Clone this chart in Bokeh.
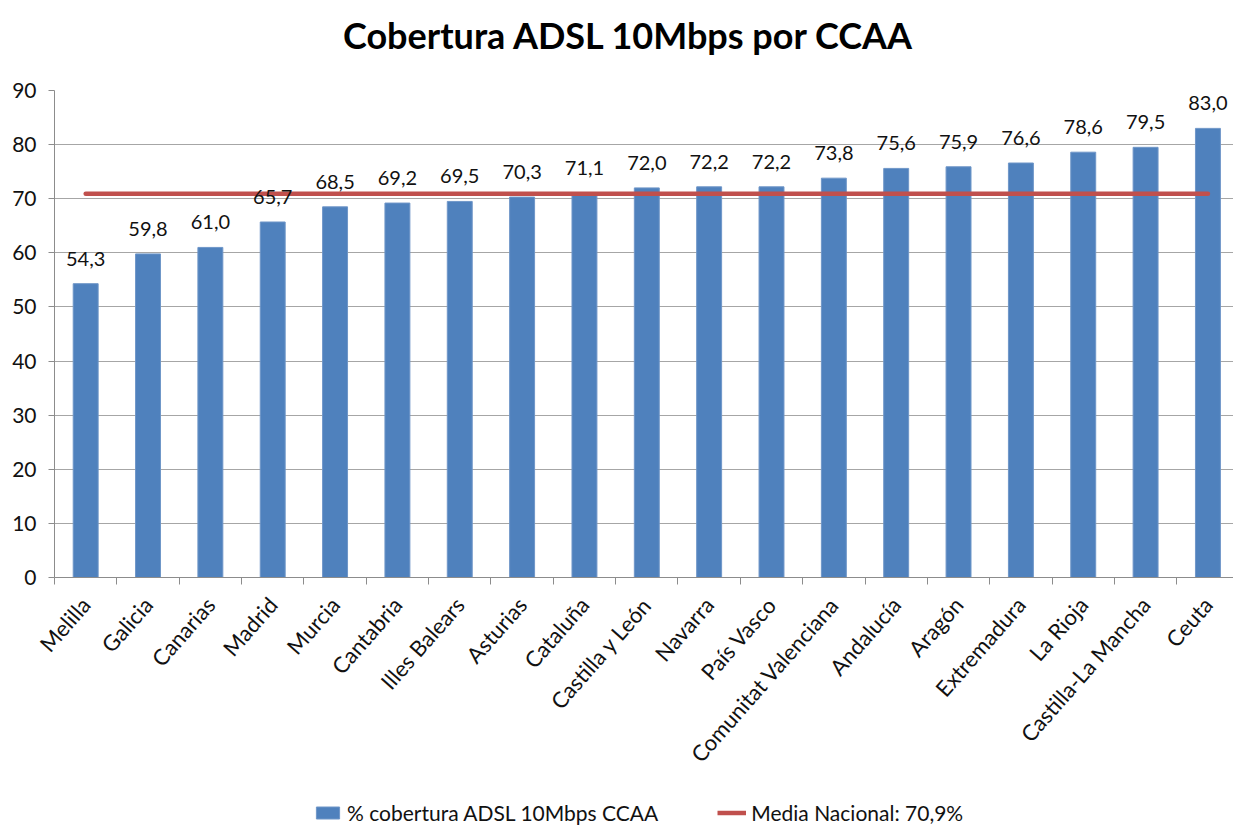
import math
from bokeh.plotting import figure
from bokeh.layouts import column
from bokeh.models import ColumnDataSource, FixedTicker, Legend, LegendItem, Range1d, Label
from bokeh.core.properties import value
from bokeh.embed import file_html
from bokeh.resources import INLINE

categories = ["Melilla", "Galicia", "Canarias", "Madrid", "Murcia", "Cantabria",
              "Illes Balears", "Asturias", "Cataluña", "Castilla y León", "Navarra",
              "País Vasco", "Comunitat Valenciana", "Andalucía", "Aragón",
              "Extremadura", "La Rioja", "Castilla-La Mancha", "Ceuta"]
coverage = [54.3, 59.8, 61.0, 65.7, 68.5, 69.2, 69.5, 70.3, 71.1, 72.0, 72.2,
            72.2, 73.8, 75.6, 75.9, 76.6, 78.6, 79.5, 83.0]
media_nacional = 70.9
y_ticks = [0, 10, 20, 30, 40, 50, 60, 70, 80, 90]
title_text = "Cobertura ADSL 10Mbps por CCAA"

FONT = "Lato"
BLUE = "#4F81BD"
RED = "#C0504D"
GRAY = "#8C8C8C"
TXT = "#111111"

n = len(categories)
xs = [i + 0.5 for i in range(n)]
labels = [f"{v:.1f}".replace(".", ",") for v in coverage]
src = ColumnDataSource(dict(x=xs, v=coverage, lab=labels, cat=categories))


def strip(height):
    f = figure(width=1233, height=height, x_range=Range1d(0, 1), y_range=Range1d(0, height),
               output_backend="svg", toolbar_location=None,
               min_border_left=0, min_border_right=0, min_border_top=0, min_border_bottom=0,
               x_axis_location=None, y_axis_location=None)
    f.outline_line_color = None
    f.grid.visible = False
    return f


# Title strip
tf = strip(60)
tf.add_layout(Label(x=0.5, y=26, text=title_text, text_align="center",
                    text_baseline="middle", x_offset=-15, text_font=FONT,
                    text_font_size="36px", text_font_style="bold", text_color="#000000"))

# Main chart
p = figure(width=1233, height=735, x_range=Range1d(0, n - 0.09), y_range=Range1d(0, 90),
           output_backend="svg", toolbar_location=None,
           min_border_left=54, min_border_right=0, min_border_top=30,
           min_border_bottom=218)
p.outline_line_color = None

bars = p.vbar(x="x", top="v", width=0.4, source=src, fill_color=BLUE,
              line_color="#6F96C8", line_width=1)
media_line = p.line(x=[xs[0], xs[-1]], y=[media_nacional, media_nacional],
                    line_color=RED, line_width=4.5, line_cap="round")
p.text(x="x", y="v", text="lab", source=src, text_align="center",
       text_baseline="bottom", y_offset=-18, text_font=value(FONT),
       text_font_size="20px", text_color=TXT)

p.xaxis.ticker = FixedTicker(ticks=xs, minor_ticks=list(range(n + 1)))
p.xaxis.major_label_overrides = {x: c for x, c in zip(xs, categories)}
p.xaxis.major_tick_line_color = None
p.xaxis.minor_tick_in = 0
p.xaxis.minor_tick_out = 7
p.xaxis.minor_tick_line_color = GRAY
p.xaxis.axis_line_color = GRAY
p.xaxis.major_label_orientation = 0.85
p.xaxis.major_label_text_font = FONT
p.xaxis.major_label_text_font_size = "22px"
p.xaxis.major_label_text_color = TXT
p.xaxis.major_label_standoff = 16

p.yaxis.ticker = FixedTicker(ticks=y_ticks)
p.yaxis.major_tick_in = 0
p.yaxis.major_tick_out = 6
p.yaxis.major_tick_line_color = GRAY
p.yaxis.minor_tick_line_color = None
p.yaxis.axis_line_color = GRAY
p.yaxis.major_label_text_font = FONT
p.yaxis.major_label_text_font_size = "21px"
p.yaxis.major_label_text_color = TXT
p.yaxis.major_label_standoff = 12

p.xgrid.visible = False
p.ygrid.ticker = FixedTicker(ticks=y_ticks)
p.ygrid.grid_line_color = "#A6A6A6"

# Legend strip below the chart (dummy renderers sit outside the visible range)
lf = strip(30)
dummy = ColumnDataSource(dict(x=[-5], v=[-5]))
leg_bar = lf.vbar(x="x", top="v", bottom="v", width=0.4, source=dummy, fill_color=BLUE,
                  line_color="#6F96C8", line_width=1)
leg_line = lf.line(x="x", y="v", source=dummy, line_color=RED, line_width=4.5)
legend = Legend(items=[LegendItem(label="% cobertura ADSL 10Mbps CCAA", renderers=[leg_bar]),
                       LegendItem(label="Media Nacional: 70,9%", renderers=[leg_line])],
                orientation="horizontal", location=(259, 0),
                label_text_font=FONT, label_text_font_size="21px",
                label_text_color=TXT, glyph_width=29, glyph_height=15,
                label_standoff=5, spacing=59, border_line_color=None,
                background_fill_alpha=0, padding=0, margin=0)
lf.add_layout(legend, "center")

open("out.html", "w").write(file_html(column(tf, p, lf), INLINE))
